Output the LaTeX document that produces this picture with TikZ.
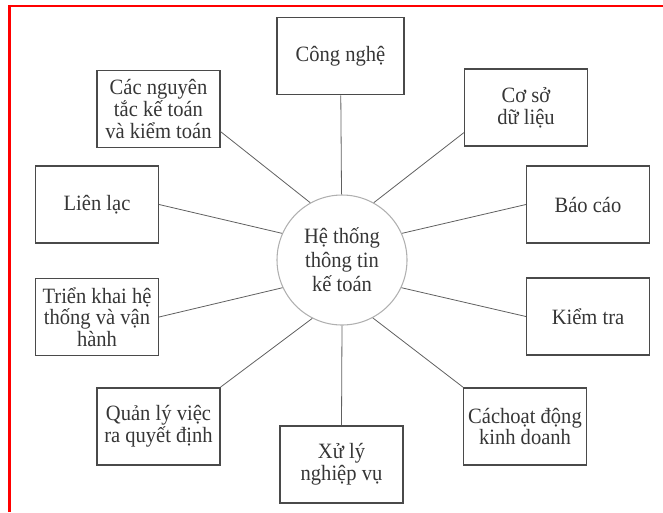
\documentclass[tikz,border=0pt]{standalone}
\usepackage{fontspec}
\setmainfont{Liberation Serif}[FakeStretch=0.94]
\definecolor{boxline}{HTML}{4A4A4A}
\definecolor{linkline}{HTML}{606060}
\definecolor{hubline}{HTML}{B0B0B0}
\definecolor{ink}{HTML}{363636}
\begin{document}
\begin{tikzpicture}[x=0.75pt,y=-0.75pt,
  topic/.style={draw=boxline, line width=1.1pt, rectangle, align=center,
    minimum width=92pt, minimum height=58pt, inner sep=2pt, text=ink,
    font=\fontsize{16.4}{16.2}\selectfont},
  hub/.style={draw=hubline, line width=0.8pt, circle, align=center,
    minimum size=97.5pt, inner sep=0pt, text=ink,
    font=\fontsize{16.4}{18}\selectfont},
  link/.style={draw=linkline, line width=0.6pt}]
  \useasboundingbox (0,0) rectangle (663,512);
  \draw[red, line width=1.9pt] (9.5,512) -- (9.5,6) -- (663,6);
  \node[hub] (core) at (342,260) {Hệ thống\\thông tin\\kế toán};
  \node[topic, minimum width=95pt] (tech) at (340.5,56) {Công nghệ};
  \node[topic] (db) at (526,107.5) {Cơ sở\\dữ liệu};
  \node[topic] (rules) at (158.5,109) {Các nguyên\\tắc kế toán\\và kiểm toán};
  \node[topic] (comm) at (97,204.5) {Liên lạc};
  \node[topic] (report) at (588,204.5) {Báo cáo};
  \node[topic] (control) at (588,316.5) {Kiểm tra};
  \node[topic] (deploy) at (97,317) {Triển khai hệ\\thống và vận\\hành};
  \node[topic] (decide) at (158.5,426.5) {Quản lý việc\\ra quyết định};
  \node[topic] (biz) at (525,426.5) {Cáchoạt động\\kinh doanh};
  \node[topic] (proc) at (341.5,464.5) {Xử lý\\nghiệp vụ};
  \draw[link] (tech) -- (core);
  \draw[link] (db.202) -- (core.61);
  \draw[link] (rules.-20) -- (core.119);
  \draw[link] (comm.east) -- (core.156);
  \draw[link] (report.west) -- (core.24);
  \draw[link] (control.west) -- (core.-25);
  \draw[link] (deploy.east) -- (core.205);
  \draw[link] (decide.north east) -- (core.243);
  \draw[link] (biz.north west) -- (core.298);
  \draw[link] (proc.north) -- (core.south);
\end{tikzpicture}
\end{document}
